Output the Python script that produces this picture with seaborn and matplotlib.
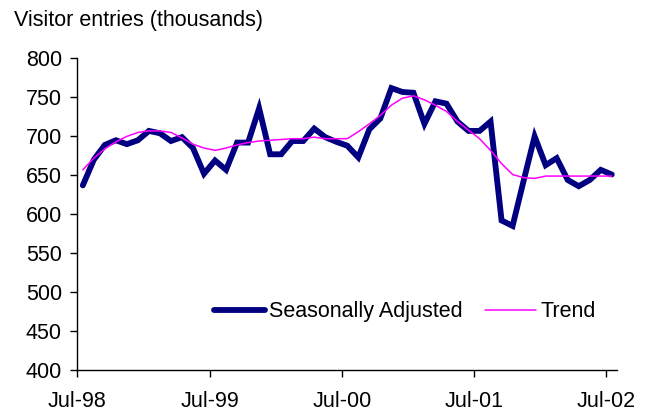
import numpy as np
import pandas as pd
import matplotlib
matplotlib.use("Agg")
import matplotlib.pyplot as plt
import seaborn as sns

# monthly visitor entries, Jul-98 .. Jul-02 (thousands)
months = pd.date_range("1998-07-01", "2002-07-01", freq="MS")
seasonally_adjusted = [637, 670, 689, 695, 690, 695, 707, 704, 694, 699,
                       685, 652, 669, 657, 692, 692, 736, 677, 677, 694,
                       694, 710, 699, 693, 688, 673, 709, 723, 762, 757,
                       756, 716, 745, 742, 719, 707, 707, 719, 592, 585,
                       643, 700, 663, 672, 644, 636, 644, 657, 651]
trend = [657, 672, 684, 693, 700, 705, 707, 707, 705, 698,
         690, 685, 682, 685, 689, 692, 694, 695, 696, 697,
         697, 699, 697, 697, 697, 706, 716, 727, 740, 749,
         752, 747, 740, 732, 719, 708, 697, 682, 665, 651,
         647, 646, 649, 649, 649, 649, 649, 649, 649]
tick_labels = ["Jul-98", "Jul-99", "Jul-00", "Jul-01", "Jul-02"]

sns.set_style("ticks")
plt.rcParams['font.family'] = ['Liberation Sans', 'DejaVu Sans']
plt.rcParams['text.color'] = 'black'

df = pd.DataFrame({
    "pos": np.arange(len(months)) + 0.5,   # points sit between month ticks
    "Seasonally Adjusted": seasonally_adjusted,
    "Trend": trend,
})

fig = plt.figure(figsize=(6.56, 4.11), dpi=100)
ax = fig.add_axes([0.1178, 0.0998, 0.8232, 0.7579])

sns.lineplot(data=df, x="pos", y="Seasonally Adjusted", ax=ax, color="#000080",
             linewidth=4.2, label="Seasonally Adjusted", solid_joinstyle="miter")
sns.lineplot(data=df, x="pos", y="Trend", ax=ax, color="#FF00FF",
             linewidth=1.1, label="Trend")

ax.set_xlim(0, len(months))
ax.set_ylim(400, 800)
ax.set_yticks(np.arange(400, 801, 50))
ax.set_xticks(np.arange(0, len(months), 12))
ax.set_xticklabels(tick_labels)
ax.tick_params(axis="both", labelsize=15.5, length=5, width=1, color="black",
               labelcolor="black")
ax.tick_params(axis="x", pad=10)
ax.tick_params(axis="y", pad=6)
ax.set_xlabel("")
ax.set_ylabel("")
for s in ["top", "right"]:
    ax.spines[s].set_visible(False)
for s in ["left", "bottom"]:
    ax.spines[s].set_color("black")
    ax.spines[s].set_linewidth(1)

fig.text(0.022, 0.949, "Visitor entries (thousands)", fontsize=15.5,
         va="center", ha="left")

ax.legend(ncol=2, loc="center", bbox_to_anchor=(0.617, 0.241),
          bbox_transform=fig.transFigure, frameon=False, fontsize=15.5,
          handlelength=2.4, handletextpad=0.2, columnspacing=1.0)

fig.savefig("out.png", dpi=100)
